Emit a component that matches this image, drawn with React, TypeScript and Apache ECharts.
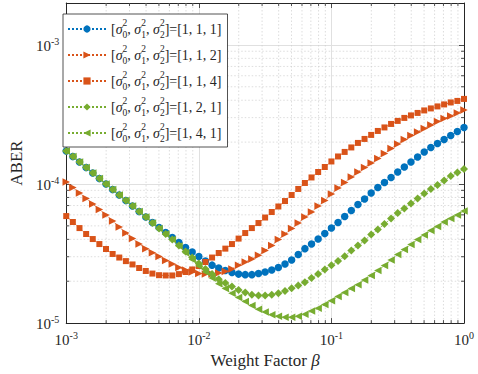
import React, { useEffect, useRef } from 'react';
import * as echarts from 'echarts';

// beta sample points (log-spaced, 20 per decade)
const BETA = [
  0.001, 0.001122, 0.001259, 0.001413, 0.001585, 0.001778, 0.001995, 0.002239, 0.002512, 0.002818,
  0.003162, 0.003548, 0.003981, 0.004467, 0.005012, 0.005623, 0.00631, 0.007079, 0.007943, 0.008913,
  0.01, 0.01122, 0.01259, 0.01413, 0.01585, 0.01778, 0.01995, 0.02239, 0.02512, 0.02818,
  0.03162, 0.03548, 0.03981, 0.04467, 0.05012, 0.05623, 0.0631, 0.07079, 0.07943, 0.08913,
  0.1, 0.1122, 0.1259, 0.1413, 0.1585, 0.1778, 0.1995, 0.2239, 0.2512, 0.2818,
  0.3162, 0.3548, 0.3981, 0.4467, 0.5012, 0.5623, 0.631, 0.7079, 0.7943, 0.8913,
  1.0,
];

const ABER_111 = [
  17.28e-5, 15.77e-5, 14.4e-5, 13.14e-5, 12.0e-5, 10.96e-5, 10.0e-5, 9.13e-5, 8.33e-5, 7.61e-5,
  6.95e-5, 6.34e-5, 5.79e-5, 5.28e-5, 4.86e-5, 4.48e-5, 4.12e-5, 3.79e-5, 3.49e-5, 3.24e-5,
  3.01e-5, 2.79e-5, 2.61e-5, 2.49e-5, 2.39e-5, 2.31e-5, 2.25e-5, 2.23e-5, 2.23e-5, 2.27e-5,
  2.33e-5, 2.41e-5, 2.51e-5, 2.66e-5, 2.84e-5, 3.11e-5, 3.43e-5, 3.7e-5, 4.02e-5, 4.4e-5,
  4.82e-5, 5.28e-5, 5.84e-5, 6.45e-5, 7.12e-5, 7.8e-5, 8.62e-5, 9.44e-5, 10.25e-5, 11.14e-5,
  12.2e-5, 13.25e-5, 14.4e-5, 15.64e-5, 17.0e-5, 18.31e-5, 19.57e-5, 20.91e-5, 22.34e-5, 23.87e-5,
  25.5e-5,
];

const ABER_112 = [
  10.34e-5, 9.44e-5, 8.62e-5, 7.86e-5, 7.18e-5, 6.55e-5, 5.98e-5, 5.42e-5, 4.9e-5, 4.44e-5,
  4.05e-5, 3.7e-5, 3.43e-5, 3.21e-5, 3.01e-5, 2.82e-5, 2.66e-5, 2.51e-5, 2.41e-5, 2.33e-5,
  2.27e-5, 2.25e-5, 2.25e-5, 2.29e-5, 2.35e-5, 2.45e-5, 2.61e-5, 2.75e-5, 2.89e-5, 3.08e-5,
  3.32e-5, 3.61e-5, 3.99e-5, 4.37e-5, 4.78e-5, 5.24e-5, 5.79e-5, 6.29e-5, 6.95e-5, 7.61e-5,
  8.47e-5, 9.36e-5, 10.25e-5, 11.23e-5, 12.2e-5, 13.14e-5, 14.16e-5, 15.26e-5, 16.57e-5, 18.01e-5,
  19.41e-5, 20.91e-5, 22.34e-5, 23.67e-5, 25.08e-5, 26.58e-5, 28.17e-5, 29.61e-5, 30.86e-5, 32.42e-5,
  34.07e-5,
];

const ABER_114 = [
  5.88e-5, 5.33e-5, 4.82e-5, 4.37e-5, 4.02e-5, 3.7e-5, 3.41e-5, 3.14e-5, 2.96e-5, 2.79e-5,
  2.64e-5, 2.49e-5, 2.37e-5, 2.27e-5, 2.21e-5, 2.2e-5, 2.2e-5, 2.25e-5, 2.33e-5, 2.43e-5,
  2.57e-5, 2.75e-5, 2.96e-5, 3.19e-5, 3.43e-5, 3.7e-5, 4.05e-5, 4.44e-5, 4.82e-5, 5.24e-5,
  5.74e-5, 6.29e-5, 6.89e-5, 7.54e-5, 8.33e-5, 9.21e-5, 10.17e-5, 11.14e-5, 12.2e-5, 13.25e-5,
  14.52e-5, 15.77e-5, 17.0e-5, 18.31e-5, 19.73e-5, 21.08e-5, 22.53e-5, 24.06e-5, 25.5e-5, 27.02e-5,
  28.41e-5, 29.85e-5, 31.11e-5, 32.42e-5, 33.79e-5, 34.93e-5, 36.11e-5, 37.32e-5, 38.57e-5, 39.55e-5,
  40.88e-5,
];

const ABER_121 = [
  17.28e-5, 15.77e-5, 14.4e-5, 13.14e-5, 12.0e-5, 10.96e-5, 10.0e-5, 9.13e-5, 8.33e-5, 7.61e-5,
  6.95e-5, 6.34e-5, 5.79e-5, 5.24e-5, 4.78e-5, 4.37e-5, 3.99e-5, 3.61e-5, 3.27e-5, 2.96e-5,
  2.68e-5, 2.45e-5, 2.25e-5, 2.07e-5, 1.94e-5, 1.83e-5, 1.73e-5, 1.66e-5, 1.6e-5, 1.58e-5,
  1.58e-5, 1.6e-5, 1.64e-5, 1.7e-5, 1.78e-5, 1.86e-5, 1.97e-5, 2.11e-5, 2.25e-5, 2.43e-5,
  2.61e-5, 2.79e-5, 3.03e-5, 3.32e-5, 3.61e-5, 3.92e-5, 4.33e-5, 4.71e-5, 5.15e-5, 5.65e-5,
  6.19e-5, 6.66e-5, 7.24e-5, 7.86e-5, 8.54e-5, 9.21e-5, 9.84e-5, 10.6e-5, 11.42e-5, 12.1e-5,
  12.82e-5,
];

const ABER_141 = [
  17.28e-5, 15.77e-5, 14.4e-5, 13.14e-5, 12.0e-5, 10.96e-5, 10.0e-5, 9.13e-5, 8.33e-5, 7.61e-5,
  6.95e-5, 6.34e-5, 5.79e-5, 5.24e-5, 4.78e-5, 4.37e-5, 3.99e-5, 3.58e-5, 3.21e-5, 2.86e-5,
  2.57e-5, 2.33e-5, 2.11e-5, 1.92e-5, 1.77e-5, 1.64e-5, 1.53e-5, 1.43e-5, 1.34e-5, 1.26e-5,
  1.2e-5, 1.15e-5, 1.12e-5, 1.1e-5, 1.1e-5, 1.12e-5, 1.16e-5, 1.22e-5, 1.28e-5, 1.36e-5,
  1.45e-5, 1.55e-5, 1.66e-5, 1.77e-5, 1.89e-5, 2.04e-5, 2.2e-5, 2.39e-5, 2.59e-5, 2.84e-5,
  3.11e-5, 3.38e-5, 3.67e-5, 3.99e-5, 4.3e-5, 4.63e-5, 4.94e-5, 5.33e-5, 5.65e-5, 5.98e-5,
  6.39e-5,
];

const PARAM_SETS = ['1, 1, 1', '1, 1, 2', '1, 1, 4', '1, 2, 1', '1, 4, 1'];
const SERIES_DATA = [ABER_111, ABER_112, ABER_114, ABER_121, ABER_141];
const X_MIN = 1e-3;
const X_MAX = 1;
const Y_MIN = 1e-5;
const Y_MAX = 2e-3;
const X_MINOR = [
  0.002, 0.003, 0.004, 0.005, 0.006, 0.007, 0.008, 0.009,
  0.02, 0.03, 0.04, 0.05, 0.06, 0.07, 0.08, 0.09,
  0.2, 0.3, 0.4, 0.5, 0.6, 0.7, 0.8, 0.9,
];
const Y_MINOR = [
  2e-5, 3e-5, 4e-5, 5e-5, 6e-5, 7e-5, 8e-5, 9e-5,
  2e-4, 3e-4, 4e-4, 5e-4, 6e-4, 7e-4, 8e-4, 9e-4,
];

const COLORS = ['#0072BD', '#D95319', '#D95319', '#77AC30', '#77AC30'];
const SYMBOLS = [
  'circle',
  'path://M0,0L10,5L0,10Z',
  'rect',
  'diamond',
  'path://M10,0L0,5L10,10Z',
];
const SYMBOL_SIZES: any[] = [7.5, 7.5, 6, 8, 7.5];

const SERIF = 'Liberation Serif';
const INK = '#262626';

const seriesName = (p: string) => `[σ₀², σ₁², σ₂²]=[${p}]`;

const powLabel = (v: number) => {
  const l = Math.log10(v);
  const e = Math.round(l);
  if (Math.abs(l - e) > 1e-6) return '';
  return `{b|10}{p|${e}}`;
};

const labelRich = {
  b: { fontFamily: SERIF, fontSize: 15, color: INK, lineHeight: 17, verticalAlign: 'bottom' },
  p: { fontFamily: SERIF, fontSize: 10, color: INK, lineHeight: 10, verticalAlign: 'top' },
};

export default function App() {
  const ref = useRef<HTMLDivElement>(null);

  useEffect(() => {
    if (!ref.current) return;
    const chart = echarts.init(ref.current, null, { renderer: 'svg' });

    const minorX = (params: any, api: any) => {
      const p = api.coord([api.value(0), api.value(1)]);
      const cs = params.coordSys;
      const top = cs.y;
      const bot = cs.y + cs.height;
      return {
        type: 'group',
        children: [
          { type: 'line', shape: { x1: p[0], y1: top, x2: p[0], y2: bot }, style: { stroke: '#cfcfcf', lineWidth: 0.7, lineDash: [1.5, 2] } },
          { type: 'line', shape: { x1: p[0], y1: bot, x2: p[0], y2: bot - 3 }, style: { stroke: INK, lineWidth: 0.8 } },
          { type: 'line', shape: { x1: p[0], y1: top, x2: p[0], y2: top + 3 }, style: { stroke: INK, lineWidth: 0.8 } },
        ],
      };
    };
    const minorY = (params: any, api: any) => {
      const p = api.coord([api.value(0), api.value(1)]);
      const cs = params.coordSys;
      const l = cs.x;
      const r = cs.x + cs.width;
      return {
        type: 'group',
        children: [
          { type: 'line', shape: { x1: l, y1: p[1], x2: r, y2: p[1] }, style: { stroke: '#cfcfcf', lineWidth: 0.7, lineDash: [1.5, 2] } },
          { type: 'line', shape: { x1: l, y1: p[1], x2: l + 3, y2: p[1] }, style: { stroke: INK, lineWidth: 0.8 } },
          { type: 'line', shape: { x1: r, y1: p[1], x2: r - 3, y2: p[1] }, style: { stroke: INK, lineWidth: 0.8 } },
        ],
      };
    };

    const names = PARAM_SETS.map(seriesName);

    const lineSeries = SERIES_DATA.map((vals, i) => ({
      name: names[i],
      type: 'line',
      xAxisIndex: 0,
      yAxisIndex: 0,
      data: vals.map((v, j) => [BETA[j], v]),
      symbol: SYMBOLS[i],
      symbolSize: SYMBOL_SIZES[i],
      showSymbol: true,
      showAllSymbol: true,
      lineStyle: { color: COLORS[i], width: 1, type: 'dotted' },
      itemStyle: { color: COLORS[i], borderWidth: 0 },
      emphasis: { disabled: true },
      z: 3 + i,
    }));

    const legendRich = {
      t: { fontFamily: SERIF, fontSize: 14, color: INK, lineHeight: 22 },
      s: { fontFamily: SERIF, fontSize: 14, fontStyle: 'italic', color: INK, lineHeight: 22 },
      p: { fontFamily: SERIF, fontSize: 9.5, color: INK, lineHeight: 10, verticalAlign: 'top', width: 0 },
      u: { fontFamily: SERIF, fontSize: 9.5, color: INK, lineHeight: 10, verticalAlign: 'bottom' },
    };

    const legendFormatter = (name: string) => {
      const idx = names.indexOf(name);
      const vals = PARAM_SETS[idx];
      return `{t|[}{s|σ}{p|2}{u|0}{t|, }{s|σ}{p|2}{u|1}{t|, }{s|σ}{p|2}{u|2}{t|]=[${vals}]}`;
    };

    chart.setOption({
      animation: false,
      backgroundColor: '#ffffff',
      grid: { left: 51, right: 14, top: 3, bottom: 50, containLabel: false },
      legend: {
        orient: 'vertical',
        left: 63,
        top: 14,
        data: names,
        itemWidth: 38,
        itemHeight: 9,
        itemGap: 4,
        padding: [4, 6, 3, 4],
        backgroundColor: '#ffffff',
        borderColor: INK,
        borderWidth: 0.8,
        selectedMode: false,
        formatter: legendFormatter,
        textStyle: { rich: legendRich },
        z: 10,
      },
      xAxis: [
        {
          type: 'log',
          logBase: 10,
          min: X_MIN,
          max: X_MAX,
          position: 'bottom',
          name: '{n|Weight Factor }{i|β}',
          nameLocation: 'middle',
          nameGap: 19,
          nameTextStyle: {
            fontFamily: SERIF,
            fontSize: 17,
            color: INK,
            rich: {
              n: { fontFamily: SERIF, fontSize: 17, color: INK },
              i: { fontFamily: SERIF, fontSize: 17, fontStyle: 'italic', color: INK },
            },
          },
          axisLine: { show: true, lineStyle: { color: INK, width: 1 } },
          axisTick: { show: true, inside: true, length: 5, lineStyle: { color: INK, width: 0.8 } },
          axisLabel: { formatter: powLabel, margin: 7, rich: labelRich, showMinLabel: true, showMaxLabel: true },
          splitLine: { show: true, lineStyle: { color: '#e0e0e0', width: 1 } },
          minorTick: { show: false },
        },
        {
          type: 'log',
          logBase: 10,
          min: X_MIN,
          max: X_MAX,
          position: 'top',
          axisLine: { show: true, lineStyle: { color: INK, width: 1 } },
          axisTick: { show: true, inside: true, length: 5, lineStyle: { color: INK, width: 0.8 } },
          axisLabel: { show: false },
          splitLine: { show: false },
        },
      ],
      yAxis: [
        {
          type: 'log',
          logBase: 10,
          min: Y_MIN,
          max: Y_MAX,
          position: 'left',
          name: 'ABER',
          nameLocation: 'middle',
          nameGap: 34,
          nameTextStyle: { fontFamily: SERIF, fontSize: 17, color: INK },
          axisLine: { show: true, lineStyle: { color: INK, width: 1 } },
          axisTick: { show: true, inside: true, length: 5, lineStyle: { color: INK, width: 0.8 } },
          axisLabel: { formatter: powLabel, margin: 7, rich: labelRich },
          splitLine: { show: true, lineStyle: { color: '#e0e0e0', width: 1 } },
        },
        {
          type: 'log',
          logBase: 10,
          min: Y_MIN,
          max: Y_MAX,
          position: 'right',
          axisLine: { show: true, lineStyle: { color: INK, width: 1 } },
          axisTick: { show: true, inside: true, length: 5, lineStyle: { color: INK, width: 0.8 } },
          axisLabel: { show: false },
          splitLine: { show: false },
        },
      ],
      series: [
        {
          type: 'custom',
          name: 'minorX',
          xAxisIndex: 0,
          yAxisIndex: 0,
          data: X_MINOR.map((v) => [v, Y_MIN]),
          renderItem: minorX,
          silent: true,
          z: 1,
        },
        {
          type: 'custom',
          name: 'minorY',
          xAxisIndex: 0,
          yAxisIndex: 0,
          data: Y_MINOR.map((v) => [X_MIN, v]),
          renderItem: minorY,
          silent: true,
          z: 1,
        },
        ...lineSeries,
      ],
    });

    return () => chart.dispose();
  }, []);

  return (
    <div
      ref={ref}
      style={{ position: 'absolute', left: 0, top: 0, width: 478, height: 374, background: '#fff' }}
    />
  );
}
